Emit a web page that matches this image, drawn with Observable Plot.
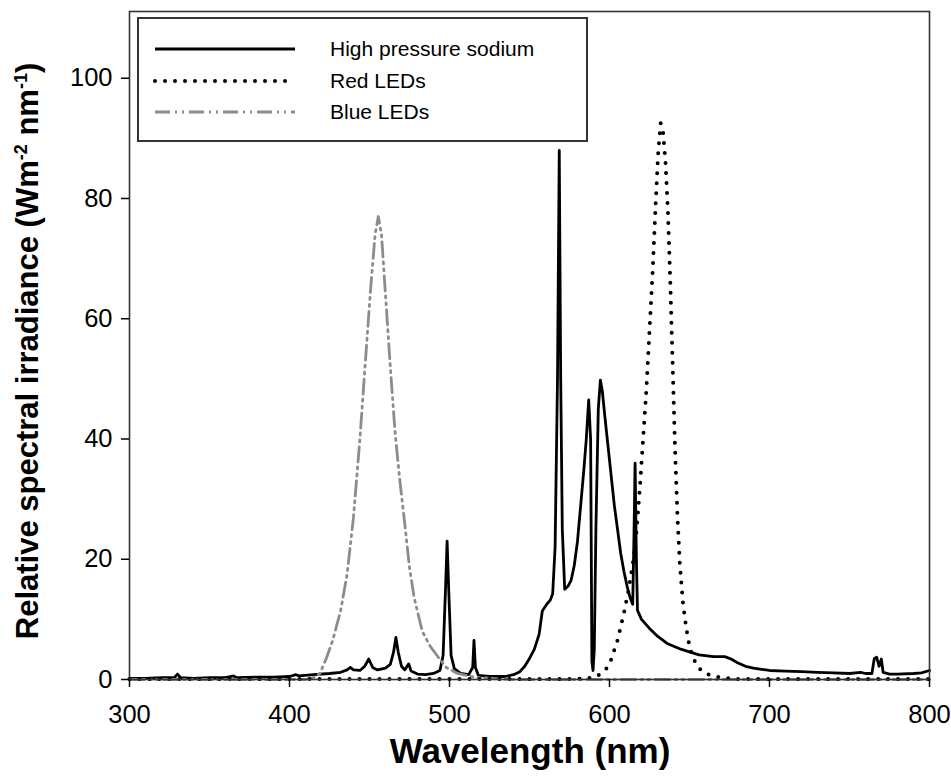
<!DOCTYPE html>
<html><head><meta charset="utf-8">
<script src="https://cdn.jsdelivr.net/npm/d3@7"></script>
<script src="https://cdn.jsdelivr.net/npm/@observablehq/plot@0.6"></script>
<style>
body{margin:0;background:#fff;font-family:"Liberation Sans",Arial,sans-serif;}
#wrap{position:relative;width:951px;height:782px;overflow:hidden;}
#legend{position:absolute;left:137px;top:17px;width:451px;height:125px;border:2px solid #333;box-sizing:border-box;background:#fff;}
.row{position:absolute;left:0;height:30px;width:440px;}
.row svg{position:absolute;left:14px;top:0;}
.row span{position:absolute;left:191px;top:2px;font-size:21px;color:#000;white-space:nowrap;}
</style></head>
<body><div id="wrap"><div id="legend"></div></div>
<script>
// High pressure sodium
const hpsWl = [300,310,320,328,330,332,340,350,360,365,367,380,390,400,404,406,415,425,432,436,438,440,444,447,449.5,452,455,460,463,465,466.5,468,470,472,474.5,476,480,485,490,494,496,497.5,498.5,499.5,501,503,507,512,514.5,515.3,516.2,518,525,535,540,544,547,550,553,556,558,561,563,564.5,566,567.5,568.6,569.5,570.5,572,574,576,578,580,582,584,585.5,587,588.2,589,589.7,590.5,591.5,593,594.3,595.5,597,599,601,603,605,607,609,611,613,614.5,615.3,616,616.8,617.5,620,625,630,636,645,656,665,672,676,680,685,690,695,700,710,720,730,740,750,757,760,764,765.5,767,768.5,769.9,771,775,780,790,795,800];
const hpsVal = [0.2,0.2,0.3,0.3,0.9,0.3,0.2,0.3,0.3,0.6,0.3,0.4,0.4,0.5,0.8,0.6,0.8,1.0,1.2,1.6,2.0,1.6,1.5,2.2,3.4,2.0,1.6,1.9,2.5,4.5,7.0,4.5,2.2,1.6,2.6,1.4,0.9,0.8,1.0,1.5,4,15,23,15,4,1.8,1.0,0.8,2,6.5,2,0.7,0.5,0.5,0.8,1.3,2.2,3.5,5,7.5,11.4,12.6,13.2,14.3,22,50,88,50,25,15,15.5,16.5,19,23,29,35,40,46.5,40,3,1.5,5,25,45,49.8,48,44,39,34,29,25,21,18,15.5,13.5,12.5,24,36,20,11.5,10,8.5,7.2,6,5,4.1,3.8,3.8,3.4,2.8,2.2,1.9,1.7,1.5,1.4,1.3,1.2,1.1,1.0,1.2,1.0,1.0,3.5,3.7,2.2,3.4,1.2,0.9,0.9,1.0,1.1,1.5];
// Red LEDs
const redWl = [300,350,400,450,500,550,580,590,595,598,601,605,609,612,615,617,619,621,623,625,627,629,630.5,632,633.5,635,636.5,638,639.5,641,642.5,644,646,648,650,652,655,658,662,670,680,700,750,800];
const redVal = [0.1,0.1,0.1,0.1,0.1,0.1,0.1,0.3,1,1.8,3.3,6.5,11,15,20,25,32,40,48,58,68,80,88,92.5,91,86,78,66,52,38,27,19,12.5,8.5,5.5,3.7,2.2,1.3,0.8,0.3,0.1,0.1,0.1,0.1];
// Blue LEDs
const blueWl = [300,350,400,410,415,419,423,427,432,436,440,444,448,451,453.5,455.5,457.5,460,463,466,469,472,475,478,483,488,493,498,505,515,530,540,600,700,800];
const blueVal = [0,0,0,0,0.3,1,3.5,6.5,11.5,17.5,27,40,55,66,74,77,74,64,52,41,33,26,18.6,13.5,8,5.5,3.7,2,1,0.4,0.1,0,0,0,0];

const xTicks = [300,400,500,600,700,800];
const yTicks = [0,20,40,60,80,100];
const seriesNames = ["High pressure sodium","Red LEDs","Blue LEDs"];

const toRows = (wl, val) => wl.map((w,i)=>({wl:w, v:val[i]}));
const hps = toRows(hpsWl, hpsVal), red = toRows(redWl, redVal), blue = toRows(blueWl, blueVal);

const styles = [
  {stroke:"#000", strokeWidth:2.8},
  {stroke:"#000", strokeWidth:4, strokeDasharray:"0 10", strokeLinecap:"round"},
  {stroke:"#8c8c8c", strokeWidth:2.8, strokeDasharray:"15 5 2 5 2 5"}
];

const chart = Plot.plot({
  width:951, height:782,
  marginLeft:129, marginRight:22, marginTop:11, marginBottom:103,
  style:{fontFamily:"'Liberation Sans', Arial, sans-serif", background:"#fff", color:"#000", overflow:"visible"},
  x:{domain:[300,800]},
  y:{domain:[0,111.1]},
  marks:[
    Plot.line(hps, {x:"wl", y:"v", ...styles[0]}),
    Plot.line(blue, {x:"wl", y:"v", ...styles[2]}),
    Plot.line(red, {x:"wl", y:"v", ...styles[1]}),
    Plot.frame({stroke:"#333", strokeWidth:1.6}),
    Plot.axisX({ticks:xTicks, tickSize:8, tickPadding:17, fontSize:25.5, label:null, strokeWidth:1.5}),
    Plot.axisY({ticks:yTicks, tickSize:8, tickPadding:9, fontSize:25.5, label:null, strokeWidth:1.5})
  ]
});

const svg = d3.select(chart);
svg.append("text")
  .attr("x", 530).attr("y", 763)
  .attr("text-anchor","middle")
  .style("font-size","35px").style("font-weight","bold").attr("fill","#000")
  .text("Wavelength (nm)");
const yl = svg.append("text")
  .attr("transform","translate(38,351) rotate(-90)")
  .attr("text-anchor","middle")
  .style("font-size","31px").style("font-weight","bold").attr("fill","#000");
yl.append("tspan").text("Relative spectral irradiance (Wm");
yl.append("tspan").attr("dy","-11").style("font-size","18px").text("-2");
yl.append("tspan").attr("dy","11").text(" nm");
yl.append("tspan").attr("dy","-11").style("font-size","18px").text("-1");
yl.append("tspan").attr("dy","11").text(")");

document.getElementById("wrap").prepend(chart);

// legend overlay
const legend = document.getElementById("legend");
const rowTops = [16, 48, 79];
seriesNames.forEach((name,i)=>{
  const row = document.createElement("div");
  row.className = "row";
  row.style.top = rowTops[i] + "px";
  const s = styles[i];
  row.innerHTML = `<svg width="150" height="30"><line x1="2" x2="142" y1="14" y2="14" stroke="${s.stroke}" stroke-width="${s.strokeWidth}" ${s.strokeDasharray?`stroke-dasharray="${s.strokeDasharray}"`:""} ${s.strokeLinecap?`stroke-linecap="${s.strokeLinecap}"`:""}/></svg><span>${name}</span>`;
  legend.appendChild(row);
});
</script>
</body></html>
